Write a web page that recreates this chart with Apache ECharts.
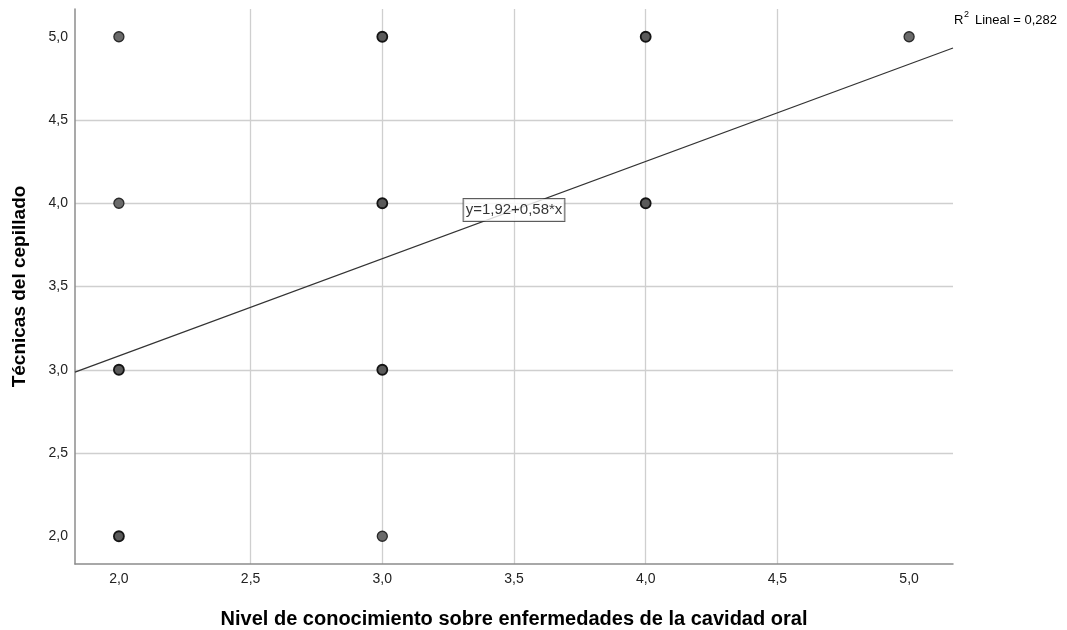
<!DOCTYPE html>
<html>
<head>
<meta charset="utf-8">
<script src="https://cdn.jsdelivr.net/npm/echarts@6/dist/echarts.min.js"></script>
<style>html,body{margin:0;padding:0;background:#fff;overflow:hidden}#c{width:1067px;height:630px}</style>
</head>
<body>
<div id="c"></div>
<script>
// Data
const xValues = [2, 2, 2, 2, 3, 3, 3, 3, 4, 4, 5];
const yValues = [5, 4, 3, 2, 5, 4, 3, 2, 5, 4, 5];
const overlapCounts = [1, 1, 2, 3, 2, 3, 2, 1, 2, 3, 1];
const tickValues = [2.0, 2.5, 3.0, 3.5, 4.0, 4.5, 5.0];
const fitIntercept = 1.915;
const fitSlope = 0.584;
const fitLabel = 'y=1,92+0,58*x';
const r2Label = '0,282';
const xTitle = 'Nivel de conocimiento sobre enfermedades de la cavidad oral';
const yTitle = 'Técnicas del cepillado';
const axisMin = 11 / 6, axisMax = 31 / 6;

const fmt = v => v.toFixed(1).replace('.', ',');
const fit = x => fitIntercept + fitSlope * x;

const points = xValues.map((x, i) => ({
  value: [x, yValues[i]],
  itemStyle: {
    opacity: 1,
    color: overlapCounts[i] > 1 ? '#5a5a5a' : '#6a6a6a',
    borderColor: overlapCounts[i] > 1 ? '#141414' : '#2a2a2a',
    borderWidth: overlapCounts[i] > 1 ? 1.8 : 1.3
  }
}));

const font = '"Liberation Sans", Arial, sans-serif';
const axisCommon = {
  type: 'value',
  min: axisMin,
  max: axisMax,
  nameLocation: 'middle',
  axisLine: { show: true, onZero: false, lineStyle: { color: '#8c8c8c', width: 1.5 } },
  axisTick: { show: false, customValues: tickValues },
  axisLabel: { customValues: tickValues, formatter: fmt, fontFamily: font, fontSize: 14, color: '#222' },
  splitLine: { show: true, showMinLine: false, showMaxLine: false, lineStyle: { color: '#cfcfcf', width: 1.3 } }
};

const chart = echarts.init(document.getElementById('c'), null, { renderer: 'canvas' });
chart.setOption({
  animation: false,
  backgroundColor: '#fff',
  grid: { left: 75, right: 114, top: 9, bottom: 66, containLabel: false, outerBoundsMode: 'none' },
  xAxis: Object.assign({}, axisCommon, {
    name: xTitle,
    nameGap: 45,
    nameTextStyle: { fontFamily: font, fontSize: 20, fontWeight: 'bold', color: '#000' },
    axisLabel: Object.assign({}, axisCommon.axisLabel, { margin: 8 })
  }),
  yAxis: Object.assign({}, axisCommon, {
    name: yTitle,
    nameGap: 46,
    nameTextStyle: { fontFamily: font, fontSize: 19, fontWeight: 'bold', color: '#000' },
    axisLabel: Object.assign({}, axisCommon.axisLabel, { margin: 7 })
  }),
  series: [
    {
      type: 'line',
      data: [[axisMin, fit(axisMin)], [axisMax, fit(axisMax)]],
      symbol: 'none',
      lineStyle: { color: '#333', width: 1.2 },
      z: 2
    },
    {
      type: 'scatter',
      data: points,
      symbolSize: 10,
      z: 3
    },
    {
      type: 'scatter',
      data: [[3.5, fit(3.5)]],
      symbolSize: 0,
      z: 4,
      label: {
        show: true,
        position: 'inside',
        formatter: fitLabel,
        fontFamily: font,
        fontSize: 15,
        color: '#000',
        backgroundColor: '#fff',
        borderColor: '#333',
        borderWidth: 1,
        padding: [4, 2, 3, 2]
      }
    }
  ],
  graphic: [
    { type: 'text', left: 954, top: 14, style: { text: 'R', fontFamily: font, fontSize: 13, fill: '#000' } },
    { type: 'text', left: 964, top: 10, style: { text: '2', fontFamily: font, fontSize: 9, fill: '#000' } },
    { type: 'text', left: 975, top: 14, style: { text: 'Lineal = ' + r2Label, fontFamily: font, fontSize: 13, fill: '#000' } }
  ]
});
</script>
</body>
</html>
